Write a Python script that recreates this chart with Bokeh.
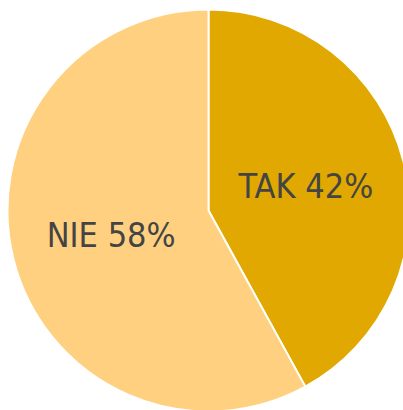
import numpy as np
from bokeh.plotting import figure
from bokeh.models import ColumnDataSource, Range1d
from bokeh.core.properties import value
from bokeh.embed import file_html
from bokeh.resources import INLINE

categories = ["TAK", "NIE"]
percent = [42, 58]
colors = ["#E0A800", "#FFD080"]

W, H = 403, 410
cx, cy, R = 208, 200, 201

fr = np.array(percent, dtype=float) / sum(percent)
ends_cw = np.cumsum(fr) * 2 * np.pi
starts_cw = ends_cw - fr * 2 * np.pi
start_angle = np.pi / 2 - ends_cw
end_angle = np.pi / 2 - starts_cw
mid = (start_angle + end_angle) / 2

labels = [f"{c} {p}%" for c, p in zip(categories, percent)]
src = ColumnDataSource(dict(
    start=start_angle, end=end_angle, color=colors,
    lx=cx + 0.5 * R * np.cos(mid), ly=cy + 0.5 * R * np.sin(mid), label=labels,
))

p = figure(width=W, height=H, output_backend="svg", toolbar_location=None,
           x_range=Range1d(0, W), y_range=Range1d(0, H), min_border=0)
p.axis.visible = False
p.grid.visible = False
p.outline_line_color = None
p.background_fill_color = "white"

p.wedge(x=cx, y=cy, radius=R, start_angle="start", end_angle="end",
        fill_color="color", line_color="white", line_width=2, source=src)
p.text(x="lx", y="ly", text="label", source=src, text_align="center",
       text_baseline="middle", text_color="#444444", text_font_size="34px",
       text_font=value("'DejaVu Sans Condensed', 'Roboto Condensed', 'Liberation Sans Narrow', Roboto, sans-serif"))

open("out.html", "w").write(file_html(p, INLINE))
